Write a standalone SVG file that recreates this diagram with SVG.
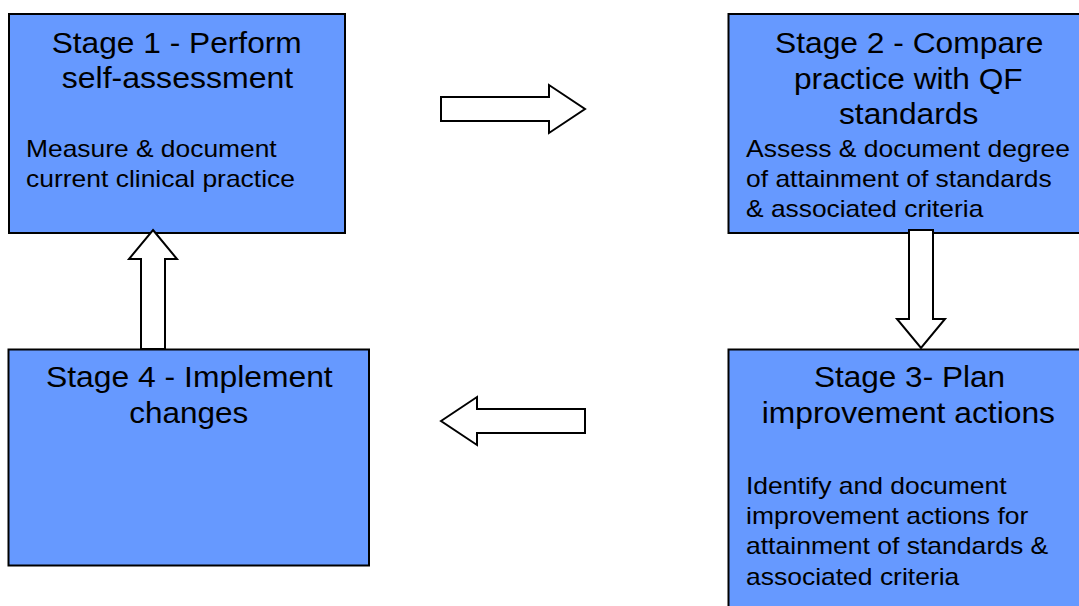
<svg xmlns="http://www.w3.org/2000/svg" width="1079" height="606" viewBox="0 0 1079 606">
<style>
.box{fill:#6699ff;stroke:#000;stroke-width:2}
.arr{fill:#fff;stroke:#000;stroke-width:2;stroke-linejoin:miter}
.t{font-family:"Liberation Sans",Arial,sans-serif;font-size:30px;fill:#000}
.b{font-family:"Liberation Sans",Arial,sans-serif;font-size:24px;fill:#000}
</style>
<rect width="1079" height="606" fill="#fff"/>
<g id="stage1">
<rect class="box" x="9" y="14" width="336" height="219"/>
<text class="t" x="51.7" y="53" textLength="250" lengthAdjust="spacingAndGlyphs">Stage 1 - Perform</text>
<text class="t" x="61.7" y="87.5" textLength="231.6" lengthAdjust="spacingAndGlyphs">self-assessment</text>
<text class="b" x="26" y="157" textLength="250.7" lengthAdjust="spacingAndGlyphs">Measure &amp; document</text>
<text class="b" x="26" y="187" textLength="269" lengthAdjust="spacingAndGlyphs">current clinical practice</text>
</g>
<g id="stage2">
<rect class="box" x="728.5" y="14" width="362" height="219"/>
<text class="t" x="775" y="53" textLength="268.3" lengthAdjust="spacingAndGlyphs">Stage 2 - Compare</text>
<text class="t" x="794" y="88.5" textLength="228.7" lengthAdjust="spacingAndGlyphs">practice with QF</text>
<text class="t" x="839" y="124" textLength="139.3" lengthAdjust="spacingAndGlyphs">standards</text>
<text class="b" x="746" y="157" textLength="324" lengthAdjust="spacingAndGlyphs">Assess &amp; document degree</text>
<text class="b" x="746" y="187" textLength="305.7" lengthAdjust="spacingAndGlyphs">of attainment of standards</text>
<text class="b" x="746" y="217" textLength="237.3" lengthAdjust="spacingAndGlyphs">&amp; associated criteria</text>
</g>
<g id="stage3">
<rect class="box" x="728.5" y="349.5" width="362" height="270"/>
<text class="t" x="814" y="387" textLength="191" lengthAdjust="spacingAndGlyphs">Stage 3- Plan</text>
<text class="t" x="761.7" y="423" textLength="293.3" lengthAdjust="spacingAndGlyphs">improvement actions</text>
<text class="b" x="746" y="493.5" textLength="260.7" lengthAdjust="spacingAndGlyphs">Identify and document</text>
<text class="b" x="746" y="523.5" textLength="282.3" lengthAdjust="spacingAndGlyphs">improvement actions for</text>
<text class="b" x="746" y="553.5" textLength="302.3" lengthAdjust="spacingAndGlyphs">attainment of standards &amp;</text>
<text class="b" x="746" y="585" textLength="213.3" lengthAdjust="spacingAndGlyphs">associated criteria</text>
</g>
<g id="stage4">
<rect class="box" x="8.5" y="349.5" width="360.5" height="216"/>
<text class="t" x="46" y="387" textLength="286.7" lengthAdjust="spacingAndGlyphs">Stage 4 - Implement</text>
<text class="t" x="129.3" y="423" textLength="119" lengthAdjust="spacingAndGlyphs">changes</text>
</g>
<g id="connectors">
<path class="arr" d="M441,97 L549,97 L549,85 L585,109 L549,133 L549,121 L441,121 Z"/>
<path class="arr" d="M909,230 L933,230 L933,319 L945,319 L921,348 L897,319 L909,319 Z"/>
<path class="arr" d="M441,421 L477,397 L477,409 L585,409 L585,433 L477,433 L477,445 Z"/>
<path class="arr" d="M153,230 L177,259 L165,259 L165,349 L141,349 L141,259 L129,259 Z"/>
</g>
</svg>
